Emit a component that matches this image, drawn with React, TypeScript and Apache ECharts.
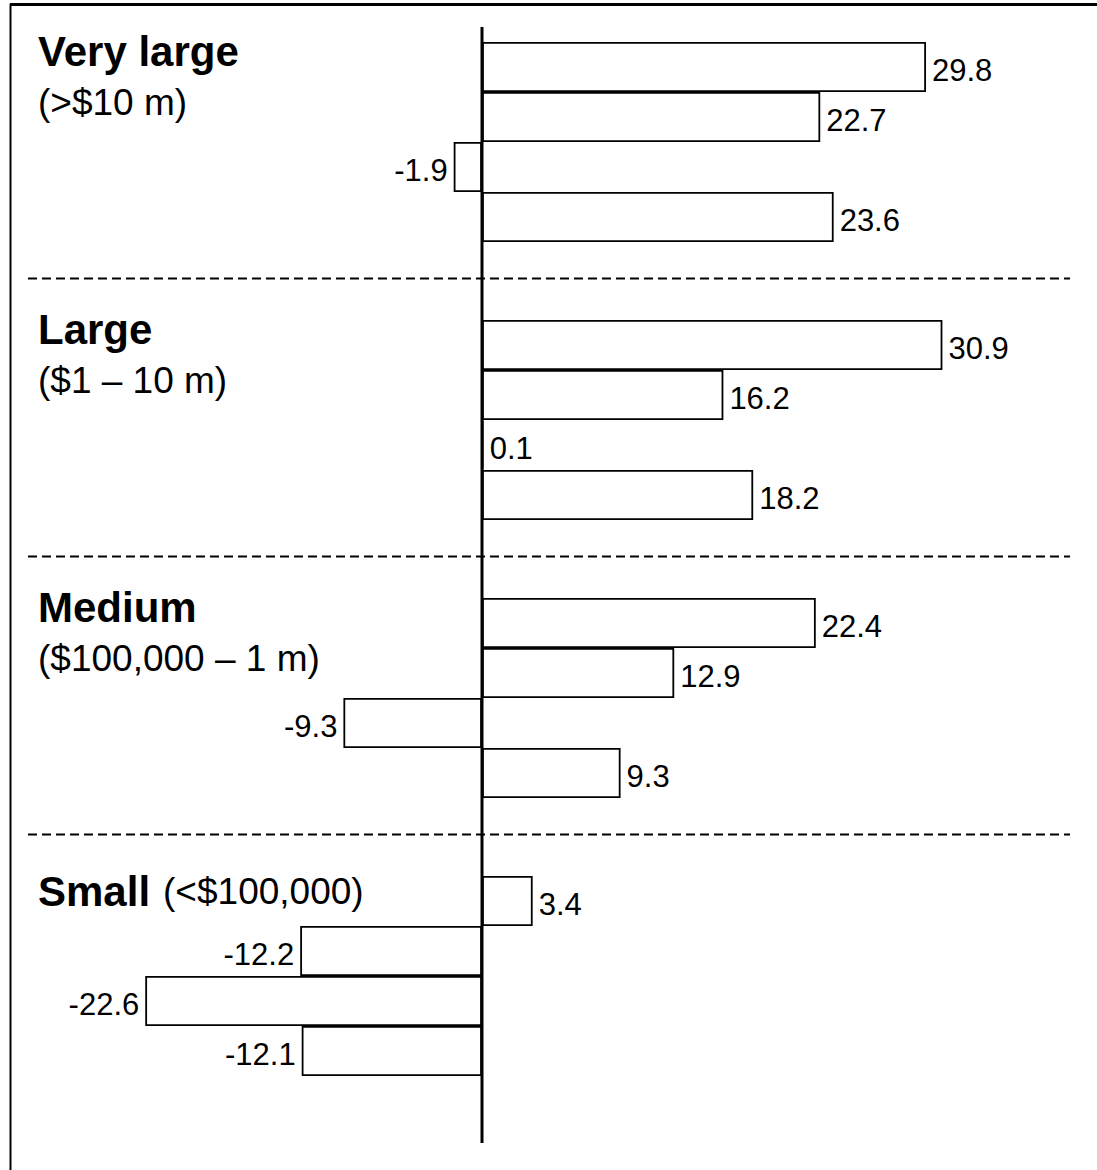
import React, { useEffect, useRef } from "react";
import * as echarts from "echarts";

const categories = ["Very large", "Large", "Medium", "Small"];
const ranges = ["(>$10 m)", "($1 – 10 m)", "($100,000 – 1 m)", "(<$100,000)"];
const bar1 = [29.8, 30.9, 22.4, 3.4];
const bar2 = [22.7, 16.2, 12.9, -12.2];
const bar3 = [-1.9, 0.1, -9.3, -22.6];
const bar4 = [23.6, 18.2, 9.3, -12.1];
const inlineGroups = ["Small"];

const FONT = '"Liberation Sans", Arial, sans-serif';

export default function App() {
  const ref = useRef<HTMLDivElement>(null);
  useEffect(() => {
    document.body.style.margin = "0";
    const chart = echarts.init(ref.current!, null, { renderer: "svg" });
    const mk = (name: string, vals: number[]) => ({
      name,
      type: "bar",
      barWidth: 50,
      barGap: "0%",
      itemStyle: { color: "#fff", borderColor: "#000", borderWidth: 1.8 },
      label: {
        show: true,
        distance: 6,
        offset: [0, 3],
        fontSize: 31,
        fontFamily: FONT,
        color: "#000",
        formatter: (p: any) => Number(p.value).toFixed(1),
      },
      data: vals.map((v) => ({
        value: v,
        label: { position: v < 0 ? "left" : "right" },
      })),
    });
    chart.setOption({
      animation: false,
      grid: { left: 35, width: 1043, top: 3, height: 1112 },
      xAxis: { type: "value", min: -30, max: 40, show: false },
      yAxis: { type: "category", data: categories, inverse: true, show: false },
      series: [mk("s1", bar1), mk("s2", bar2), mk("s3", bar3), mk("s4", bar4)],
    });
    const x0 = chart.convertToPixel({ xAxisIndex: 0 }, 0) as number;
    const ys = categories.map((_, i) => chart.convertToPixel({ yAxisIndex: 0 }, i) as number);
    const half = (ys[1] - ys[0]) / 2;
    const graphics: any[] = [];
    // frame
    graphics.push({
      type: "line",
      shape: { x1: 10, y1: 4.5, x2: 1097, y2: 4.5 },
      style: { stroke: "#000", lineWidth: 3 },
      z: 100,
    });
    graphics.push({
      type: "line",
      shape: { x1: 10.5, y1: 4, x2: 10.5, y2: 1170 },
      style: { stroke: "#000", lineWidth: 2 },
      z: 100,
    });
    // separators
    for (let i = 0; i < categories.length - 1; i++) {
      const y = Math.round(ys[i] + half) - 2.5;
      graphics.push({
        type: "line",
        shape: { x1: 28, y1: y, x2: 1070, y2: y },
        style: { stroke: "#000", lineWidth: 2, lineDash: [9, 5] },
        z: 50,
      });
    }
    // zero line
    graphics.push({
      type: "line",
      shape: { x1: x0, y1: 27, x2: x0, y2: 1143 },
      style: { stroke: "#000", lineWidth: 3 },
      z: 100,
    });
    // group labels
    categories.forEach((c, i) => {
      const top = ys[i] - half;
      if (inlineGroups.includes(c)) {
        graphics.push({
          type: "text",
          x: 38,
          y: top + 68 - 14,
          style: {
            text: `{b|${c}}{r|${ranges[i]}}`,
            verticalAlign: "middle",
            rich: {
              b: { font: `bold 42px ${FONT}`, fill: "#000" },
              r: { font: `37px ${FONT}`, fill: "#000", padding: [0, 0, 0, 13] },
            },
          },
          z: 60,
        });
      } else {
        graphics.push({
          type: "text",
          x: 38,
          y: top + 60 - 12,
          style: { text: c, font: `bold 42px ${FONT}`, fill: "#000", verticalAlign: "middle" },
          z: 60,
        });
        graphics.push({
          type: "text",
          x: 38,
          y: top + 105 - 6,
          style: { text: ranges[i], font: `37px ${FONT}`, fill: "#000", verticalAlign: "middle" },
          z: 60,
        });
      }
    });
    chart.setOption({ graphic: graphics });
    return () => chart.dispose();
  }, []);
  return <div ref={ref} style={{ width: 1097, height: 1170 }} />;
}
